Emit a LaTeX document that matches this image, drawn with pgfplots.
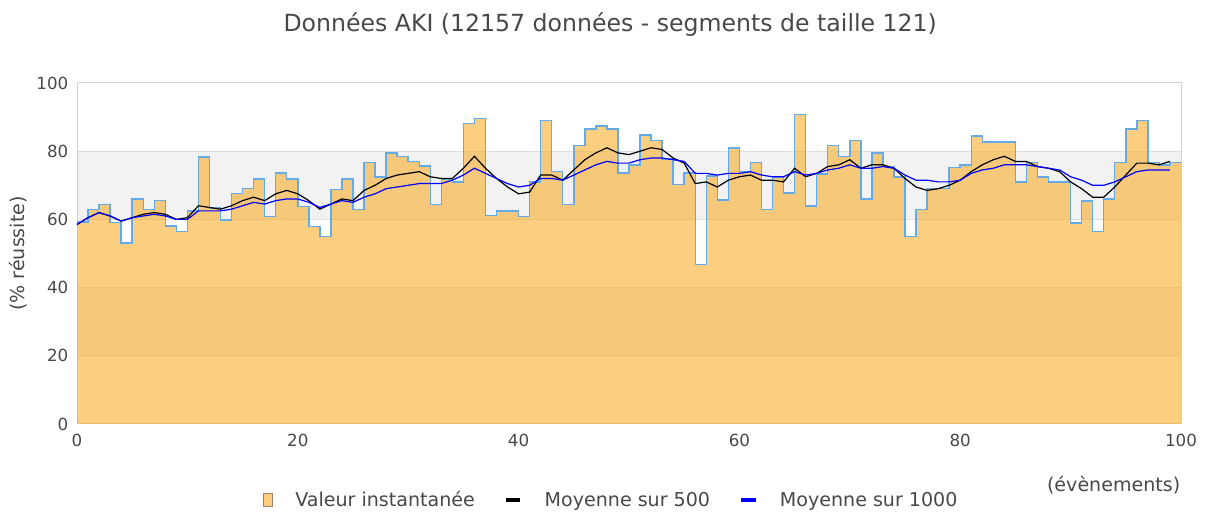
\documentclass[border=0pt]{standalone}
\usepackage{pgfplots}
\usepackage{pgfplotstable}
\pgfplotsset{compat=1.18}
\usepackage{fontspec}
\setmainfont{DejaVu Sans}
\definecolor{textc}{RGB}{72,72,72}
\definecolor{orangef}{RGB}{248,173,43}
\definecolor{orangeleg}{RGB}{251,206,128}
\definecolor{outc}{RGB}{100,170,230}
\definecolor{framec}{RGB}{210,210,210}
\definecolor{gridc}{RGB}{222,222,222}
\definecolor{bandc}{RGB}{242,242,242}
\definecolor{legsq}{RGB}{150,130,100}

\pgfplotstableread{
x y
0 59.3
1 62.9
2 64.4
3 59.1
4 53.1
5 66.0
6 62.9
7 65.5
8 58.1
9 56.4
10 62.4
11 78.3
12 63.4
13 59.8
14 67.6
15 69.1
16 71.9
17 60.8
18 73.6
19 71.9
20 63.8
21 57.9
22 55.0
23 68.7
24 71.9
25 62.9
26 76.7
27 72.4
28 79.5
29 78.4
30 77.0
31 75.7
32 64.4
33 71.9
34 71.0
35 88.1
36 89.6
37 61.2
38 62.4
39 62.4
40 60.8
41 71.0
42 89.0
43 74.1
44 64.4
45 81.7
46 86.5
47 87.4
48 86.5
49 73.6
50 76.0
51 84.8
52 83.1
53 77.7
54 70.3
55 73.6
56 46.8
57 72.7
58 65.7
59 81.0
60 74.1
61 76.7
62 62.9
63 72.4
64 67.7
65 90.8
66 63.9
67 73.3
68 81.7
69 78.4
70 83.1
71 66.0
72 79.5
73 75.5
74 72.4
75 55.0
76 62.9
77 69.1
78 69.1
79 75.2
80 76.0
81 84.4
82 82.7
83 82.7
84 82.7
85 71.0
86 76.7
87 72.4
88 71.0
89 71.0
90 59.0
91 65.4
92 56.5
93 66.0
94 76.7
95 86.5
96 89.0
97 76.7
98 76.0
99 76.7
100 76.7
}\stepdata

\pgfplotstableread{
x m500 m1000
0 58.5 58.5
1 60.5 60.5
2 62 62
3 61 61
4 59.5 59.5
5 60.5 60.5
6 61.5 61
7 62 61.5
8 61.5 61
9 60 60
10 60.5 60
11 64 62.5
12 63.5 62.5
13 63 62.5
14 64 63
15 65.5 64
16 66.5 65
17 65.5 64.5
18 67.5 65.5
19 68.5 66
20 67.5 66
21 65.5 65
22 63 63.5
23 64.5 64.5
24 66 65.5
25 65.5 65
26 68.5 66.5
27 70 67.5
28 72 69
29 73 69.5
30 73.5 70
31 74 70.5
32 72.5 70.5
33 72 70.5
34 72 71.5
35 75 73
36 78.5 75
37 75 73.5
38 72 72
39 69.5 70.5
40 67.5 69.5
41 68 70
42 73 72
43 73 72
44 71.5 71.5
45 74.5 73
46 77.5 74.5
47 79.5 76
48 81 77
49 79.5 76.5
50 79 76.5
51 80 77.5
52 81 78
53 80.5 78
54 78 77.5
55 76.5 77
56 70.5 73.5
57 71 73.5
58 69.5 73
59 71.5 73.5
60 72.5 73.5
61 73 74
62 71.5 73
63 71.5 72.5
64 71 72.5
65 75 74
66 72.5 73
67 73.5 73.5
68 75.5 74.5
69 76 75
70 77.5 76
71 75 75
72 76 75
73 76 75.5
74 75 75
75 72 73
76 69.5 71.5
77 68.5 71.5
78 69 71
79 70 71
80 71.5 71.5
81 74 73.5
82 76 74.5
83 77.5 75
84 78.5 76
85 77 76
86 77 76
87 75.5 75.5
88 75 75
89 74 74.5
90 71 72.5
91 69 71.5
92 66.5 70
93 66.5 70
94 69.5 71
95 73 72.5
96 76.5 74
97 76.5 74.5
98 76 74.5
99 77 74.5
}\meandata

\begin{document}
\begin{tikzpicture}
\begin{axis}[
  set layers,
  scale only axis, width=828pt, height=255.75pt,
  xmin=0, xmax=100, ymin=0, ymax=100,
  xtick={0,20,...,100}, ytick={0,20,...,100},
  ymajorgrids, grid style={draw=gridc, line width=0.75pt},
  axis line style={draw=framec, line width=0.75pt},
  major tick length=0pt,
  /pgf/number format/assume math mode=true,
  tick label style={font=\fontsize{12.5}{15}\selectfont, text=textc},
  xticklabel style={yshift=-4pt},
  yticklabel style={xshift=-3pt},
  clip=false,
  title={Données AKI (12157 données - segments de taille 121)},
  title style={font=\fontsize{17.7}{21}\selectfont, text=textc, at={(0.483,1)}, anchor=center, yshift=37.5pt},
  ylabel={(\% réussite)},
  ylabel style={font=\fontsize{14.3}{17}\selectfont, text=textc, at={(-0.0534,0.5)}, anchor=center},
  xlabel={(évènements)},
  xlabel style={font=\fontsize{14.3}{17}\selectfont, text=textc, at={(1,-0.179)}, anchor=east, xshift=3pt},
  legend style={at={(0.484,-0.223)}, anchor=center, draw=none, fill=none, legend columns=3,
    font=\fontsize{14.3}{17}\selectfont, text=textc,
    /tikz/every odd column/.append style={column sep=15pt},
    /tikz/every even column/.append style={column sep=20pt}},
]
\begin{pgfonlayer}{axis background}
\fill[bandc] (axis cs:0,20) rectangle (axis cs:100,40);
\fill[bandc] (axis cs:0,60) rectangle (axis cs:100,80);
\end{pgfonlayer}
\addplot[const plot, fill=orangef, fill opacity=0.6, draw=none, forget plot] table[x=x,y=y] {\stepdata} \closedcycle;
\addplot[const plot, draw=outc, line width=1.1pt, forget plot] table[x=x,y=y] {\stepdata};
\addplot[black, line width=0.9pt, forget plot] table[x=x,y=m500] {\meandata};
\addplot[blue, line width=0.9pt, forget plot] table[x=x,y=m1000] {\meandata};

\addlegendimage{legend image code/.code={\fill[orangeleg, draw=legsq, line width=0.6pt] (0pt,-5pt) rectangle (7pt,5pt);}}
\addlegendentry{Valeur instantanée}
\addlegendimage{legend image code/.code={\draw[black, line width=2.4pt] (0pt,0pt) -- (11pt,0pt);}}
\addlegendentry{Moyenne sur 500}
\addlegendimage{legend image code/.code={\draw[blue, line width=2.4pt] (0pt,0pt) -- (11pt,0pt);}}
\addlegendentry{Moyenne sur 1000}

\path (rel axis cs:-0.06975,-0.2551) rectangle (rel axis cs:1.02627,1.2434);
\end{axis}
\end{tikzpicture}
\end{document}
